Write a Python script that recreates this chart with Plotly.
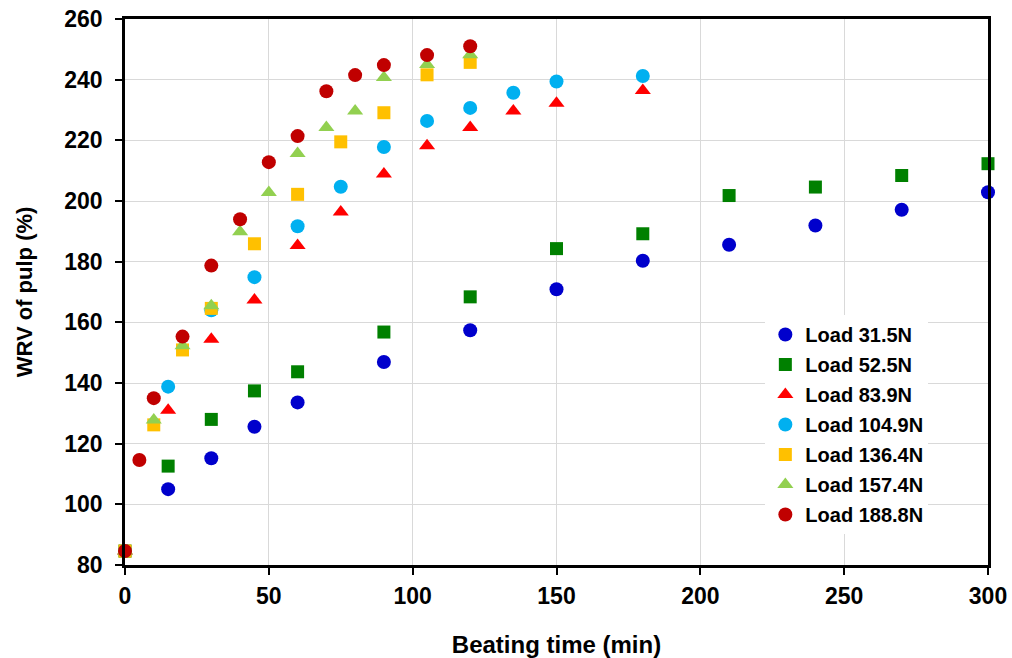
import plotly.graph_objects as go

# Beating time (min) and WRV (%) for each load
t_315 = [0, 15, 30, 45, 60, 90, 120, 150, 180, 210, 240, 270, 300]
wrv_315 = [84.6, 105.0, 115.2, 125.6, 133.6, 146.9, 157.4, 170.9, 180.3, 185.6, 191.9, 197.1, 202.9]

t_525 = [0, 15, 30, 45, 60, 90, 120, 150, 180, 210, 240, 270, 300]
wrv_525 = [84.6, 112.6, 128.0, 137.4, 143.7, 156.8, 168.4, 184.3, 189.2, 201.8, 204.6, 208.4, 212.3]

t_839 = [0, 15, 30, 45, 60, 75, 90, 105, 120, 135, 150, 180]
wrv_839 = [84.6, 131.0, 154.4, 167.4, 185.3, 196.4, 208.9, 218.2, 224.2, 229.7, 232.2, 236.4]

t_1049 = [0, 15, 30, 45, 60, 75, 90, 105, 120, 135, 150, 180]
wrv_1049 = [84.6, 138.8, 164.0, 174.9, 191.7, 204.7, 217.8, 226.4, 230.7, 235.7, 239.4, 241.2]

t_1364 = [0, 10, 20, 30, 45, 60, 75, 90, 105, 120]
wrv_1364 = [84.6, 126.2, 150.9, 164.6, 185.9, 202.2, 219.5, 229.1, 241.6, 245.7]

t_1574 = [0, 10, 20, 30, 40, 50, 60, 70, 80, 90, 105, 120]
wrv_1574 = [84.6, 127.8, 152.3, 165.5, 189.9, 202.8, 215.7, 224.2, 229.7, 240.7, 245.0, 248.2]

t_1888 = [0, 5, 10, 20, 30, 40, 50, 60, 70, 80, 90, 105, 120]
wrv_1888 = [84.6, 114.6, 135.0, 155.3, 178.7, 194.0, 212.8, 221.4, 236.2, 241.5, 244.8, 248.1, 251.0]

series = [
    ("Load 31.5N", t_315, wrv_315, "circle", "#0000CC", 14),
    ("Load 52.5N", t_525, wrv_525, "square", "#008000", 13),
    ("Load 83.9N", t_839, wrv_839, "triangle-up", "#FF0000", 14),
    ("Load 104.9N", t_1049, wrv_1049, "circle", "#00B0F0", 14),
    ("Load 136.4N", t_1364, wrv_1364, "square", "#FFC000", 13),
    ("Load 157.4N", t_1574, wrv_1574, "triangle-up", "#92D050", 14),
    ("Load 188.8N", t_1888, wrv_1888, "circle", "#C00000", 14),
]

x_ticks = [0, 50, 100, 150, 200, 250, 300]
y_ticks = [80, 100, 120, 140, 160, 180, 200, 220, 240, 260]

FONT = "Liberation Sans, Arial, sans-serif"

fig = go.Figure()
for name, t, w, sym, col, sz in series:
    fig.add_trace(go.Scatter(
        x=t, y=w, mode="markers", name=name, legendgroup=name,
        marker=dict(symbol=sym, color=col, size=sz, line=dict(width=0)),
        cliponaxis=False,
    ))

axis_common = dict(
    showline=True, linecolor="black", linewidth=2.5, mirror=True,
    ticks="outside", ticklen=7, tickwidth=2, tickcolor="black",
    showgrid=True, gridcolor="#d9d9d9", gridwidth=1.2,
    zeroline=False, automargin=False,
    tickfont=dict(family=FONT, size=23, color="black", weight="bold"),
)

fig.update_xaxes(
    range=[0, 300], tickvals=x_ticks, ticklabelstandoff=2,
    title=dict(text="<b>Beating time (min)</b>", standoff=31,
               font=dict(family=FONT, size=24, color="black")),
    **axis_common,
)
fig.update_yaxes(
    range=[80, 260], tickvals=y_ticks, ticklabelstandoff=8,
    title=dict(text="<b>WRV of pulp (%)</b>", standoff=26,
               font=dict(family=FONT, size=22, color="black")),
    **axis_common,
)

fig.update_layout(
    width=1012, height=658,
    margin=dict(l=125, r=24, t=19, b=93),
    plot_bgcolor="white", paper_bgcolor="white",
    legend=dict(
        x=0.742, y=0.458, xanchor="left", yanchor="top",
        bgcolor="white", borderwidth=0,
        font=dict(family=FONT, size=20, color="black", weight="bold"),
        tracegroupgap=1,
    ),
)

fig.write_html("out.html")
